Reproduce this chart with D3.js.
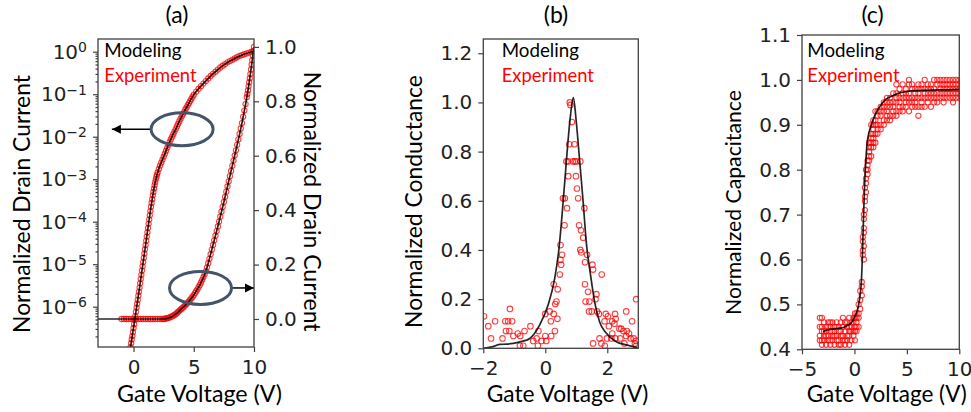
<html>
<head>
<meta charset="utf-8">
<title>Normalized device characteristics</title>
<script src="https://d3js.org/d3.v7.min.js"></script>
<style>
  body { margin: 0; background: #fff; }
  .tick line { stroke: #404040; stroke-width: 1.2; }
  .frame { fill: none; stroke: #404040; stroke-width: 1.3; }
  .lbl { font-family: Lato, "Open Sans", sans-serif; fill: #000; }
  .model { fill: none; stroke: #000; stroke-opacity: 0.85; stroke-width: 1.7; }
  .exp { fill: none; stroke: #ff0000; stroke-opacity: 0.75; stroke-width: 1.1; }
</style>
</head>
<body>
<svg id="chart" width="971" height="412"></svg>
<script>
// ---------- (a) drain current: log scale (left) ----------
// decade exponents, i.e. current = 10^value
const aLogModelV   = [-0.3, -0.25, 0, 0.5, 1, 1.5, 1.75, 2, 2.5, 3, 3.5, 4, 4.5, 5, 5.5, 6, 6.5, 7, 7.5, 8, 8.5, 9, 9.5, 10];
const aLogModelDec = [-7.05, -6.95, -6.5, -5.55, -4.55, -3.56, -3.14, -2.84, -2.47, -2.12, -1.82, -1.52, -1.26, -1.01, -0.84, -0.69, -0.545, -0.42, -0.31, -0.22, -0.145, -0.08, -0.03, 0.02];

const aLogExpV = [-0.25, -0.2, -0.15, -0.1, -0.05, 0, 0.05, 0.1, 0.15, 0.2, 0.25, 0.3, 0.35, 0.4, 0.45, 0.5, 0.55, 0.6, 0.65, 0.7,
  0.75, 0.8, 0.85, 0.9, 0.95, 1, 1.05, 1.1, 1.15, 1.2, 1.25, 1.3, 1.35, 1.4, 1.45, 1.5, 1.55, 1.6, 1.65, 1.7, 1.75, 1.8, 1.85, 1.9, 1.95, 2,
  2.1, 2.2, 2.3, 2.4, 2.5, 2.6, 2.7, 2.8, 2.9, 3, 3.1, 3.2, 3.3, 3.4, 3.5, 3.6, 3.7, 3.8, 3.9, 4, 4.1, 4.2, 4.3, 4.4, 4.5, 4.6, 4.7, 4.8, 4.9, 5,
  5.2, 5.4, 5.6, 5.8, 6, 6.2, 6.4, 6.6, 6.8, 7, 7.2, 7.4, 7.6, 7.8, 8, 8.2, 8.4, 8.6, 8.8, 9, 9.2, 9.4, 9.6, 9.8, 10];
const aLogExpDec = [-6.95, -6.86, -6.77, -6.69, -6.6, -6.5, -6.41, -6.31, -6.22, -6.12, -6.02, -5.93, -5.84, -5.74, -5.65, -5.55, -5.45, -5.35, -5.25, -5.15,
  -5.05, -4.95, -4.85, -4.75, -4.65, -4.55, -4.45, -4.35, -4.25, -4.15, -4.05, -3.95, -3.85, -3.75, -3.65, -3.56, -3.47, -3.38, -3.3, -3.22, -3.14, -3.07, -3.0, -2.94, -2.89, -2.84,
  -2.76, -2.68, -2.61, -2.54, -2.47, -2.4, -2.33, -2.26, -2.19, -2.12, -2.06, -2.0, -1.94, -1.88, -1.82, -1.76, -1.7, -1.64, -1.58, -1.52, -1.47, -1.42, -1.36, -1.31, -1.26, -1.21, -1.16, -1.11, -1.06, -1.01,
  -0.94, -0.87, -0.81, -0.75, -0.69, -0.63, -0.57, -0.52, -0.47, -0.42, -0.37, -0.33, -0.29, -0.25, -0.22, -0.19, -0.16, -0.13, -0.1, -0.08, -0.06, -0.04, -0.02, 0.0, 0.02];

// ---------- (a) drain current: linear scale (right) ----------
const aLinModelV = [-2.95, 2.5, 3, 3.5, 4, 4.5, 5, 5.5, 6, 6.5, 7, 7.5, 8, 8.5, 9, 9.5, 10];
const aLinModelI = [0, 0, 0.005, 0.018, 0.038, 0.06, 0.088, 0.125, 0.175, 0.255, 0.34, 0.43, 0.525, 0.62, 0.72, 0.84, 1.0];

const aLinExpV = [-1, -0.8, -0.6, -0.4, -0.2, 0, 0.2, 0.4, 0.6, 0.8, 1, 1.2, 1.4, 1.6, 1.8, 2, 2.2, 2.4,
  2.5, 2.6, 2.7, 2.8, 2.9, 3, 3.1, 3.2, 3.3, 3.4, 3.5, 3.6, 3.7, 3.8, 3.9, 4, 4.1, 4.2, 4.3, 4.4, 4.5, 4.6, 4.7, 4.8, 4.9, 5,
  5.1, 5.2, 5.3, 5.4, 5.5, 5.6, 5.7, 5.8, 5.9, 6, 6.1, 6.2, 6.3, 6.4, 6.5, 6.6, 6.7, 6.8, 6.9, 7, 7.1, 7.2, 7.3, 7.4, 7.5,
  7.6, 7.7, 7.8, 7.9, 8, 8.1, 8.2, 8.3, 8.4, 8.5, 8.6, 8.7, 8.8, 8.9, 9, 9.1, 9.2, 9.3, 9.4, 9.45, 9.5, 9.55, 9.6, 9.65, 9.7,
  9.75, 9.8, 9.85, 9.9, 9.95, 10];
const aLinExpI = [0, 0, 0, 0, 0, 0, 0, 0, 0, 0, 0, 0, 0, 0, 0, 0, 0, 0,
  0, 0.001, 0.002, 0.003, 0.004, 0.006, 0.008, 0.01, 0.012, 0.015, 0.018, 0.022, 0.026, 0.03, 0.034, 0.038, 0.042, 0.046, 0.051, 0.055, 0.06, 0.065, 0.071, 0.076, 0.082, 0.088,
  0.095, 0.102, 0.109, 0.117, 0.125, 0.134, 0.144, 0.154, 0.164, 0.175, 0.19, 0.205, 0.221, 0.238, 0.255, 0.272, 0.289, 0.306, 0.323, 0.34, 0.358, 0.376, 0.394, 0.412, 0.43,
  0.449, 0.468, 0.487, 0.506, 0.525, 0.544, 0.563, 0.582, 0.601, 0.62, 0.64, 0.66, 0.68, 0.7, 0.72, 0.743, 0.766, 0.79, 0.815, 0.827, 0.84, 0.855, 0.87, 0.885, 0.9,
  0.917, 0.935, 0.951, 0.968, 0.984, 1.0];

// ---------- (b) conductance ----------
const bModelV = [-2, -1.85, -1.68, -1.46, -1.25, -1.03, -0.75, -0.5, -0.18, 0.09, 0.305, 0.445, 0.55, 0.66, 0.79, 0.905, 1.0, 1.11, 1.22, 1.32, 1.46, 1.59, 1.75, 1.97, 2.29, 2.61, 2.98];
const bModelG = [0, 0.003, 0.007, 0.016, 0.017, 0.02, 0.028, 0.04, 0.095, 0.176, 0.285, 0.41, 0.556, 0.73, 0.92, 1.02, 0.92, 0.76, 0.597, 0.434, 0.298, 0.19, 0.108, 0.061, 0.027, 0.014, 0.003];

const bExpV = [0.79, 0.81, 0.86, 0.77, 0.94, 0.68, 0.73, 0.89, 0.95, 1.0, 1.13, 0.74, 0.99, 1.02, 1.06, 0.57, 0.63, 0.7, 1.26, 0.62,
  1.09, 1.15, 1.22, 0.49, 1.13, 1.16, 0.54, 1.35, 0.49, 0.51, 1.28, 0.47, 1.52, 1.54, 1.82, 0.27, 1.28, 0.4, 1.38, 1.65,
  0.32, 0.36, 1.62, 1.3, 1.42, 0.0, 0.14, 0.27, 0.39, 0.18, 0.31, 0.19, 0.0, 0.03, -0.12, -0.22, -0.28, -0.39, -0.48, -0.67,
  -0.81, -0.89, -1.03, -1.14, -1.2, -1.07, -1.29, -1.27, -1.16, -1.62, -1.84, -1.98, -1.75, -1.38, -0.71, -0.24, 1.41, 1.5, 1.67, 1.73,
  1.95, 2.02, 2.25, 2.27, 2.16, 2.61, 2.93, 2.8, 2.23, 1.91, 2.05, 2.16, 1.99, 1.75, 1.81, 1.54, 2.39, 2.45, 2.52, 2.63,
  2.61, 2.7, 2.75, 2.85, 2.93, 2.42, 2.26, 2.55, 2.89, 2.93, 1.92, 2.13, -0.82];
const bExpG = [1.0, 0.99, 0.92, 0.83, 0.83, 0.76, 0.76, 0.76, 0.76, 0.76, 0.76, 0.7, 0.7, 0.65, 0.61, 0.61, 0.61, 0.57, 0.57, 0.5,
  0.5, 0.48, 0.45, 0.42, 0.4, 0.39, 0.38, 0.38, 0.36, 0.34, 0.35, 0.3, 0.34, 0.32, 0.3, 0.26, 0.26, 0.24, 0.23, 0.22,
  0.18, 0.19, 0.2, 0.19, 0.19, 0.14, 0.15, 0.14, 0.12, 0.11, 0.07, 0.05, 0.05, 0.03, 0.03, 0.07, 0.04, 0.03, 0.09, 0.07,
  0.05, 0.06, 0.05, 0.16, 0.11, 0.11, 0.11, 0.07, 0.07, 0.11, 0.09, 0.13, 0.04, 0.04, 0.01, 0.01, 0.15, 0.15, 0.15, 0.14,
  0.14, 0.13, 0.14, 0.12, 0.11, 0.15, 0.2, 0.11, 0.1, 0.11, 0.09, 0.06, 0.04, 0.04, 0.02, 0.02, 0.08, 0.08, 0.07, 0.07,
  0.05, 0.06, 0.04, 0.04, 0.03, 0.04, 0.04, 0.02, 0.02, 0.01, 0.01, 0.04, 0.01];

// ---------- (c) capacitance ----------
const cModelV = [-3.0, -2.6, -2.2, -1.8, -1.4, -1.0, -0.6, -0.2, 0.03, 0.25, 0.41, 0.55, 0.67, 0.75, 0.83, 0.91, 0.99, 1.1, 1.21, 1.38, 1.56, 1.8, 2.1, 2.5, 2.9, 3.5, 4.17, 5.0, 5.76, 7, 8, 9, 10];
const cModelC = [0.439, 0.443, 0.445, 0.446, 0.447, 0.449, 0.454, 0.462, 0.473, 0.485, 0.5, 0.522, 0.554, 0.6, 0.666, 0.725, 0.777, 0.825, 0.859, 0.882, 0.896, 0.912, 0.929, 0.943, 0.955, 0.963, 0.97, 0.974, 0.976, 0.977, 0.978, 0.978, 0.979];

// experiment: one gate-voltage step per entry, with the capacitance readings at that step
const cExpV = [-3.3, -3.1, -2.9, -2.7, -2.5, -2.3, -2.1, -1.9, -1.7, -1.5, -1.3, -1.1, -0.9, -0.7, -0.5, -0.3, -0.1, 0.05,
  0.2, 0.4, 0.55, 0.7, 0.8, 0.9, 1.0, 1.1, 1.25, 1.4, 1.6, 1.8, 2.0, 2.2, 2.5, 2.8, 3.1, 3.4, 3.7, 4.0, 4.3, 4.6, 4.9,
  5.2, 5.5, 5.8, 6.1, 6.4, 6.7, 7.0, 7.3, 7.6, 7.9, 8.2, 8.5, 8.8, 9.1, 9.4, 9.7, 10.0];
const cExpC = [
  [0.42, 0.43, 0.45, 0.47], [0.41, 0.42, 0.44, 0.45, 0.47], [0.42, 0.43, 0.44, 0.46], [0.41, 0.43, 0.44, 0.45],
  [0.42, 0.43, 0.45, 0.46], [0.41, 0.42, 0.44, 0.45, 0.46], [0.42, 0.43, 0.44, 0.46], [0.41, 0.43, 0.44, 0.45],
  [0.42, 0.43, 0.45, 0.46], [0.41, 0.42, 0.44, 0.45], [0.41, 0.43, 0.44, 0.46], [0.42, 0.43, 0.45, 0.47],
  [0.41, 0.42, 0.44, 0.46], [0.42, 0.43, 0.45, 0.46], [0.41, 0.43, 0.44, 0.45, 0.47], [0.42, 0.44, 0.45, 0.46],
  [0.43, 0.44, 0.46, 0.47], [0.42, 0.44, 0.45, 0.47, 0.48],
  [0.44, 0.45, 0.46, 0.47, 0.48], [0.45, 0.47, 0.48, 0.5], [0.49, 0.51, 0.53], [0.52, 0.54, 0.55],
  [0.61, 0.62, 0.64, 0.65], [0.6, 0.63, 0.66, 0.67, 0.69, 0.7], [0.71, 0.73, 0.74, 0.76], [0.75, 0.77, 0.78, 0.8],
  [0.79, 0.8, 0.81, 0.82], [0.82, 0.83, 0.84, 0.85, 0.86], [0.83, 0.85, 0.86, 0.87, 0.88, 0.9], [0.85, 0.86, 0.87, 0.88, 0.89, 0.9, 0.91],
  [0.86, 0.88, 0.9, 0.91, 0.93], [0.88, 0.89, 0.9, 0.92, 0.93], [0.89, 0.9, 0.92, 0.93, 0.94], [0.9, 0.91, 0.93, 0.94, 0.95],
  [0.91, 0.92, 0.93, 0.94, 0.95, 0.96], [0.91, 0.92, 0.94, 0.95, 0.96], [0.92, 0.93, 0.94, 0.95, 0.97], [0.92, 0.93, 0.95, 0.96, 0.97, 0.99],
  [0.93, 0.94, 0.95, 0.96, 0.98], [0.93, 0.94, 0.96, 0.97, 0.99], [0.94, 0.95, 0.96, 0.97, 0.98],
  [0.93, 0.95, 0.96, 0.97, 0.99, 1.0], [0.94, 0.95, 0.96, 0.98, 0.99], [0.94, 0.95, 0.96, 0.97, 0.98], [0.92, 0.94, 0.96, 0.97, 0.98, 0.99],
  [0.94, 0.95, 0.96, 0.98, 0.99], [0.94, 0.96, 0.97, 0.98, 1.0], [0.95, 0.96, 0.97, 0.98, 0.99], [0.94, 0.96, 0.97, 0.98, 0.99],
  [0.95, 0.96, 0.97, 0.98, 1.0], [0.95, 0.96, 0.97, 0.99, 1.0], [0.96, 0.97, 0.98, 0.99, 1.0], [0.95, 0.96, 0.97, 0.98, 0.99, 1.0],
  [0.96, 0.97, 0.98, 0.99, 1.0], [0.96, 0.97, 0.98, 0.99, 1.0], [0.95, 0.96, 0.97, 0.98, 0.99, 1.0], [0.96, 0.97, 0.98, 0.99, 1.0],
  [0.96, 0.97, 0.98, 0.99, 1.0]];

// ---------- ticks and text ----------
const aXTicks = [0, 5, 10];
const aLogTicks = [-6, -5, -4, -3, -2, -1, 0];
const aLinTicks = [0, 0.2, 0.4, 0.6, 0.8, 1.0];
const bXTicks = [-2, 0, 2];
const bYTicks = [0, 0.2, 0.4, 0.6, 0.8, 1.0, 1.2];
const cXTicks = [-5, 0, 5, 10];
const cYTicks = [0.4, 0.5, 0.6, 0.7, 0.8, 0.9, 1.0, 1.1];
const panelTitles = ["(a)", "(b)", "(c)"];
const xTitle = "Gate Voltage (V)";
const yTitles = ["Normalized Drain Current", "Normalized Conductance", "Normalized Capacitance"];
const legendNames = ["Modeling", "Experiment"];

const svg = d3.select("#chart");
const minus = s => s.replace("-", "\u2212");
const fmtX = d => minus(String(d));
const fmt1 = d => minus(d3.format(".1f")(d));
const TICK_FS = 20;

// tick label look (matplotlib default font)
function tickText(g) {
  g.select(".domain").remove();
  g.selectAll(".tick text").attr("font-family", "'DejaVu Sans', sans-serif")
    .attr("font-size", TICK_FS).attr("fill", "#222");
}
// scale font so the text spans the measured width of the original
function fit(t, w) {
  const len = t.node().getComputedTextLength();
  t.attr("font-size", +t.attr("font-size") * w / len);
  return t;
}
function label(x, y, str, size, w, rot, anchor) {
  const t = svg.append("text").attr("class", "lbl")
    .attr("font-size", size)
    .attr("text-anchor", anchor || "middle")
    .text(str);
  if (rot) t.attr("transform", `translate(${x},${y}) rotate(${rot})`).attr("dominant-baseline", "central");
  else t.attr("x", x).attr("y", y);
  if (w) fit(t, w);
  return t;
}
function panel(id, x, y) {
  const [x0, x1] = x.range(), [y1, y0] = y.range();
  svg.append("clipPath").attr("id", id).append("rect")
    .attr("x", x0).attr("y", y0).attr("width", x1 - x0).attr("height", y1 - y0);
  return svg.append("g").attr("clip-path", `url(#${id})`);
}
function frame(x, y) {
  const [x0, x1] = x.range(), [y1, y0] = y.range();
  svg.append("rect").attr("class", "frame")
    .attr("x", x0).attr("y", y0).attr("width", x1 - x0).attr("height", y1 - y0);
}
function bottomAxis(x, y, ticks) {
  svg.append("g").attr("transform", `translate(0,${y.range()[0]})`)
    .call(d3.axisBottom(x).tickValues(ticks).tickFormat(fmtX).tickSize(5).tickPadding(8).tickSizeOuter(0))
    .call(tickText);
}
function leftAxis(x, y, ticks) {
  svg.append("g").attr("transform", `translate(${x.range()[0]},0)`)
    .call(d3.axisLeft(y).tickValues(ticks).tickFormat(fmt1).tickSize(5).tickPadding(6).tickSizeOuter(0))
    .call(tickText);
}
function legend(x) {
  label(x, 57.3, legendNames[0], 20, 77.3, 0, "start");
  label(x, 81.7, legendNames[1], 20, 92.3, 0, "start").style("fill", "#ff0000");
}
const line = (x, y) => d3.line().x(d => x(d[0])).y(d => y(d[1])).curve(d3.curveMonotoneX);
function dots(g, x, y, pts, r) {
  g.selectAll(null).data(pts).join("circle").attr("class", "exp")
    .attr("cx", d => x(d[0])).attr("cy", d => y(d[1])).attr("r", r || 2.5);
}

// ================= (a) =================
const aX = d3.scaleLinear().domain([-2.95, 10]).range([98, 254]);
const aYLog = d3.scaleLog().domain([Math.pow(10, -6.948), Math.pow(10, 0.299)]).range([347, 39]);
const aYLin = d3.scaleLinear().domain([-0.103, 1.029]).range([347, 39]);
const aG = panel("clipA", aX, aYLog);

dots(aG, aX, aYLog, aLogExpV.map((v, i) => [v, Math.pow(10, aLogExpDec[i])]), 2.6);
dots(aG, aX, aYLin, aLinExpV.map((v, i) => [v, aLinExpI[i]]), 2.6);
aG.append("path").attr("class", "model")
  .attr("d", line(aX, aYLog)(aLogModelV.map((v, i) => [v, Math.pow(10, aLogModelDec[i])])));
aG.append("path").attr("class", "model")
  .attr("d", line(aX, aYLin)(aLinModelV.map((v, i) => [v, aLinModelI[i]])));

// annotation ellipses and arrows pointing to the axis each curve belongs to
const ann = svg.append("g");
ann.append("defs").append("marker").attr("id", "head")
  .attr("viewBox", "0 0 10 10").attr("refX", 10).attr("refY", 5)
  .attr("markerWidth", 9).attr("markerHeight", 10).attr("markerUnits", "userSpaceOnUse").attr("orient", "auto")
  .append("path").attr("d", "M0,0 L10,5 L0,10 Z").attr("fill", "#000");
const e1 = [aX(4.03), aYLog(0.015)], e2 = [aX(5.56), aYLin(0.114)];
ann.append("line").attr("x1", e1[0] - 31).attr("y1", e1[1]).attr("x2", aX(-1.8)).attr("y2", e1[1])
  .attr("stroke", "#000").attr("stroke-width", 1.5).attr("marker-end", "url(#head)");
ann.append("line").attr("x1", e2[0] + 31).attr("y1", e2[1]).attr("x2", aX(10)).attr("y2", e2[1])
  .attr("stroke", "#000").attr("stroke-width", 1.5).attr("marker-end", "url(#head)");
[e1, e2].forEach(c => ann.append("ellipse").attr("cx", c[0]).attr("cy", c[1]).attr("rx", 31).attr("ry", 16.5)
  .attr("fill", "none").attr("stroke", "#44546a").attr("stroke-width", 3));

frame(aX, aYLog);
bottomAxis(aX, aYLog, aXTicks);
// log axis: majors with 10^n labels, minors without labels
const minors = [];
[-7, -6, -5, -4, -3, -2, -1, 0].forEach(p => d3.range(2, 10).forEach(m => {
  const v = m * Math.pow(10, p);
  if (v > aYLog.domain()[0] && v < aYLog.domain()[1]) minors.push(v);
}));
svg.append("g").attr("transform", "translate(98,0)")
  .call(d3.axisLeft(aYLog).tickValues(minors).tickFormat("").tickSize(2.5).tickSizeOuter(0))
  .call(g => g.select(".domain").remove());
svg.append("g").attr("transform", "translate(98,0)")
  .call(d3.axisLeft(aYLog).tickValues(aLogTicks.map(p => Math.pow(10, p))).tickFormat("").tickSize(5).tickPadding(6).tickSizeOuter(0))
  .call(tickText)
  .call(g => g.selectAll(".tick text").each(function (d) {
    const t = d3.select(this);
    t.append("tspan").text("10");
    t.append("tspan").attr("dy", "-0.45em").attr("font-size", TICK_FS * 0.7)
      .text(minus(String(Math.round(Math.log10(d)))));
  }));
svg.append("g").attr("transform", "translate(254,0)")
  .call(d3.axisRight(aYLin).tickValues(aLinTicks).tickFormat(fmt1).tickSize(5).tickPadding(6).tickSizeOuter(0))
  .call(tickText);

legend(104.3);
label(177, 23, panelTitles[0], 23);
label(199.5, 401.7, xTitle, 23, 165);
label(21, 204, yTitles[0], 23, 258, -90);
label(313.3, 201.7, yTitles[0], 23, 260, 90);

// ================= (b) =================
const bX = d3.scaleLinear().domain([-2, 3]).range([483.3, 638.3]);
const bY = d3.scaleLinear().domain([0, 1.258]).range([348.3, 39]);
const bG = panel("clipB", bX, bY);
dots(bG, bX, bY, bExpV.map((v, i) => [v, bExpG[i]]), 2.8);
bG.append("path").attr("class", "model")
  .attr("d", line(bX, bY)(bModelV.map((v, i) => [v, bModelG[i]])));
frame(bX, bY);
bottomAxis(bX, bY, bXTicks);
leftAxis(bX, bY, bYTicks);
legend(501.7);
label(556, 23, panelTitles[1], 23);
label(567.5, 401.7, xTitle, 23, 161.7);
label(413.3, 201.5, yTitles[1], 23, 253, -90);

// ================= (c) =================
const cX = d3.scaleLinear().domain([-5, 10]).range([802, 959.3]);
const cY = d3.scaleLinear().domain([0.4, 1.1]).range([349.3, 35]);
const cG = panel("clipC", cX, cY);
const cPts = [];
cExpV.forEach((v, i) => cExpC[i].forEach(c => cPts.push([v, c])));
dots(cG, cX, cY, cPts, 2.6);
cG.append("path").attr("class", "model")
  .attr("d", line(cX, cY)(cModelV.map((v, i) => [v, cModelC[i]])));
frame(cX, cY);
bottomAxis(cX, cY, cXTicks);
leftAxis(cX, cY, cYTicks);
legend(807.3);
label(872.5, 23, panelTitles[2], 23);
label(886.7, 401.7, xTitle, 23, 160);
label(733, 202.5, yTitles[2], 23, 225, -90);
</script>
</body>
</html>
